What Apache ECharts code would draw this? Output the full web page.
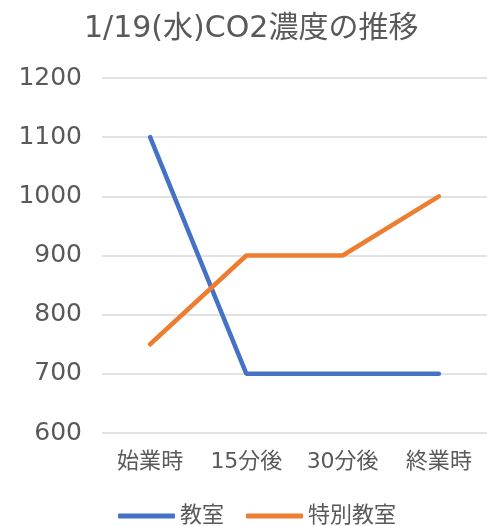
<!DOCTYPE html>
<html>
<head>
<meta charset="utf-8">
<script src="https://cdn.jsdelivr.net/npm/echarts@6/dist/echarts.min.js"></script>
<style>
html, body { margin: 0; padding: 0; background: #fff; }
#chart { width: 487px; height: 526px; }
</style>
</head>
<body>
<div id="chart"></div>
<script>
// 1/19(水) CO2濃度
const categories = ['始業時', '15分後', '30分後', '終業時']
const classroom = [1100, 700, 700, 700]
const specialRoom = [750, 900, 900, 1000]

const font = '"DejaVu Sans", "Noto Sans CJK JP", sans-serif'
const textColor = '#595959'

const chart = echarts.init(document.getElementById('chart'))
chart.setOption({
  animation: false,
  title: {
    text: '1/19(水)CO2濃度の推移',
    left: 84,
    top: 14,
    padding: 0,
    textStyle: { fontFamily: font, fontSize: 30, fontWeight: 'normal', color: textColor }
  },
  legend: {
    top: 505,
    left: 118,
    padding: 0,
    itemWidth: 57,
    itemHeight: 5,
    itemGap: 22,
    icon: 'roundRect',
    textStyle: { fontFamily: font, fontSize: 22, color: textColor },
    data: ['教室', '特別教室']
  },
  grid: { left: 102, right: 0, top: 78, bottom: 93 },
  xAxis: {
    type: 'category',
    data: categories,
    axisLine: { show: false },
    axisTick: { show: false },
    axisLabel: { fontFamily: font, fontSize: 22, color: textColor, margin: 18 }
  },
  yAxis: {
    type: 'value',
    min: 600,
    max: 1200,
    interval: 100,
    axisLabel: {
      fontFamily: font,
      fontSize: 25,
      color: textColor,
      margin: 20,
      formatter: v => String(v)
    },
    splitLine: { lineStyle: { color: '#d9d9d9', width: 1.5 } }
  },
  series: [
    {
      name: '教室',
      type: 'line',
      data: classroom,
      showSymbol: false,
      color: '#4472C4',
      lineStyle: { width: 4.5, cap: 'round' }
    },
    {
      name: '特別教室',
      type: 'line',
      data: specialRoom,
      showSymbol: false,
      color: '#ED7D31',
      lineStyle: { width: 4.5, cap: 'round' }
    }
  ]
})
</script>
</body>
</html>
